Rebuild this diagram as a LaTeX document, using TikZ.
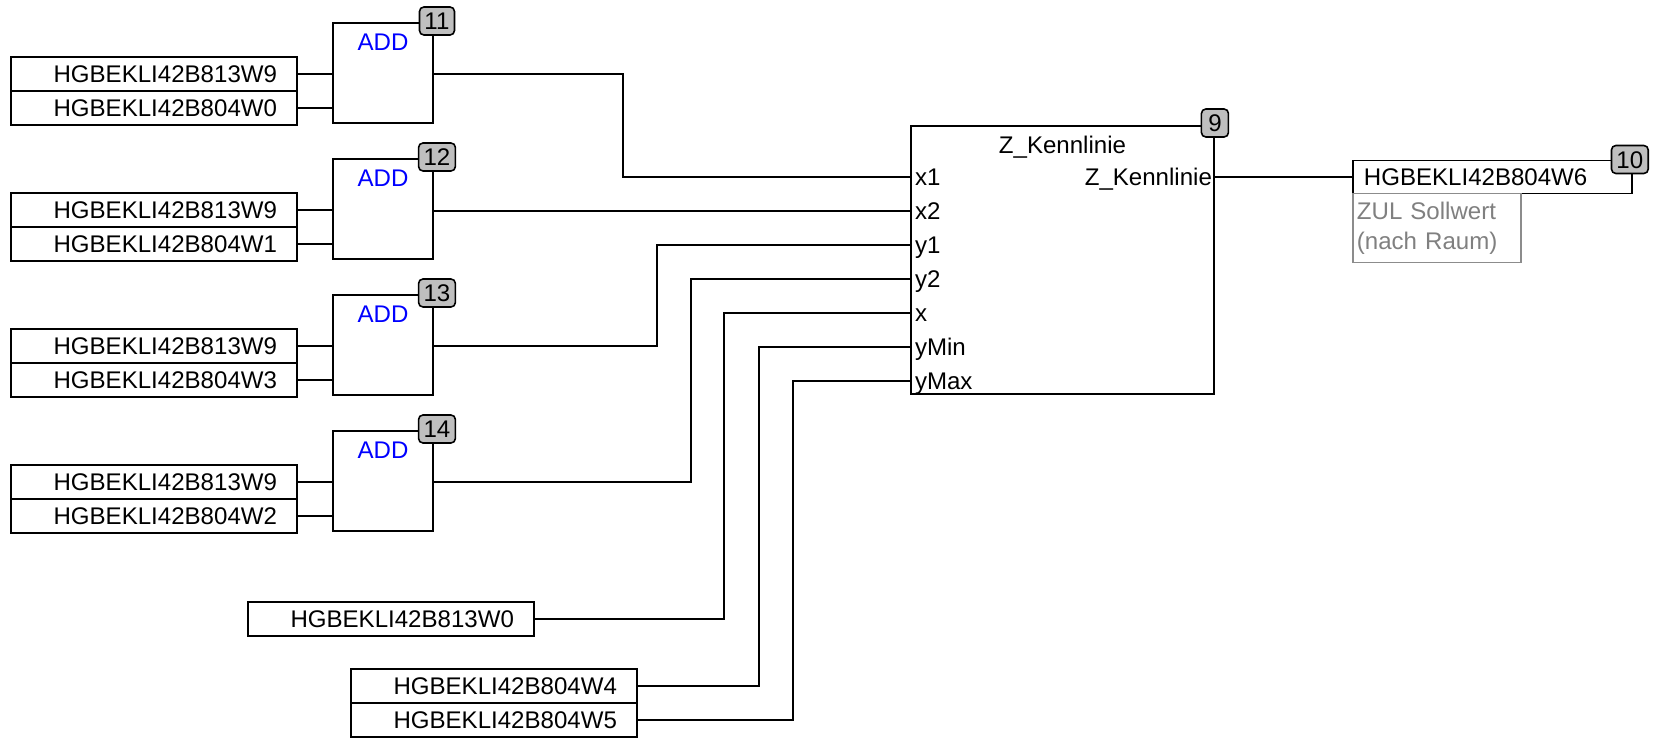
\documentclass[tikz,border=0pt]{standalone}
\usepackage{fontspec}
\setmainfont{Liberation Sans}
\usetikzlibrary{positioning, calc}

\begin{document}
\begin{tikzpicture}[
    x=0.02cm, y=-0.02cm,
    line width=0.9pt,
    font=\fontsize{13.7}{17}\selectfont,
    var/.style={rectangle, draw, text width=4.92cm, inner xsep=0.4cm, inner ysep=0pt, outer sep=0pt,
                minimum height=0.68cm, align=right, text height=9.8pt, text depth=0pt},
    outvar/.style={rectangle, draw, text width=5.14cm, inner xsep=0.22cm, inner ysep=0pt, outer sep=0pt,
                   minimum height=0.66cm, align=left, text height=9.8pt, text depth=0pt},
    block/.style={rectangle, draw, minimum width=2cm, minimum height=2cm, anchor=north west, outer sep=0pt},
    opname/.style={text=blue, inner sep=0pt},
    badge/.style={rectangle, rounded corners=2.5pt, draw, fill=black!25, inner xsep=0.1cm,
                  inner ysep=0pt, minimum width=0.54cm, minimum height=0.56cm,
                  text height=9.8pt, text depth=0pt},
    port/.style={inner xsep=0.08cm, inner ysep=0pt, outer sep=0pt, anchor=west,
                 text height=9.8pt, text depth=0pt},
    cmtbox/.style={rectangle, draw=black!45, text=black!50, text width=3.2cm, inner xsep=0.08cm,
                   outer sep=0pt, minimum height=1.38cm, align=left, line width=0.7pt},
    wire/.style={draw, line width=0.9pt},
]
\useasboundingbox (0,0) rectangle (1653,739);

% ADD blocks with their inputs
\node[block] (add11) at (333,23) {};
\node[opname, below=0.2cm of add11.north] (op11) {ADD};
\node[badge] (n11) at ($(add11.north east)+(4,-2)$) {11};
\node[var, below left=0.68cm and 0.72cm of add11.north west] (a11) {HGBEKLI42B813W9};
\node[var, below=0pt of a11] (b11) {HGBEKLI42B804W0};

\node[block] (add12) at (333,159) {};
\node[opname, below=0.2cm of add12.north] (op12) {ADD};
\node[badge] (n12) at ($(add12.north east)+(4,-2)$) {12};
\node[var, below left=0.68cm and 0.72cm of add12.north west] (a12) {HGBEKLI42B813W9};
\node[var, below=0pt of a12] (b12) {HGBEKLI42B804W1};

\node[block] (add13) at (333,295) {};
\node[opname, below=0.2cm of add13.north] (op13) {ADD};
\node[badge] (n13) at ($(add13.north east)+(4,-2)$) {13};
\node[var, below left=0.68cm and 0.72cm of add13.north west] (a13) {HGBEKLI42B813W9};
\node[var, below=0pt of a13] (b13) {HGBEKLI42B804W3};

\node[block] (add14) at (333,431) {};
\node[opname, below=0.2cm of add14.north] (op14) {ADD};
\node[badge] (n14) at ($(add14.north east)+(4,-2)$) {14};
\node[var, below left=0.68cm and 0.72cm of add14.north west] (a14) {HGBEKLI42B813W9};
\node[var, below=0pt of a14] (b14) {HGBEKLI42B804W2};

% Kennlinie block
\node[block, minimum width=6.06cm, minimum height=5.36cm] (kl) at (911,126) {};
\node[inner sep=0pt, below=0.18cm of kl.north] (kltitle) {Z\_Kennlinie};
\node[badge] (n9) at ($(kl.north east)+(1,-3)$) {9};
\node[port] (px1) at ($(kl.north west)+(0,51)$) {x1};
\node[port] (px2) at ($(kl.north west)+(0,85)$) {x2};
\node[port] (py1) at ($(kl.north west)+(0,119)$) {y1};
\node[port] (py2) at ($(kl.north west)+(0,153)$) {y2};
\node[port] (px) at ($(kl.north west)+(0,187)$) {x};
\node[port] (pymin) at ($(kl.north west)+(0,221)$) {yMin};
\node[port] (pymax) at ($(kl.north west)+(0,255)$) {yMax};
\node[port, anchor=east, inner xsep=0.04cm] (pout) at ($(kl.north east)+(0,51)$) {Z\_Kennlinie};

% output
\node[outvar, right=2.78cm of pout] (res) {HGBEKLI42B804W6};
\node[badge] (n10) at ($(res.north east)+(-2,-1)$) {10};
\node[cmtbox, below=0pt of res.south west, anchor=north west] (cmt) {ZUL Sollwert\\(nach Raum)};

% lower inputs
\node[var, anchor=north west] (bx) at (248,602) {HGBEKLI42B813W0};
\node[var, anchor=north west] (bmin) at (351,669) {HGBEKLI42B804W4};
\node[var, below=0pt of bmin] (bmax) {HGBEKLI42B804W5};

% wires
\draw[wire] (a11.east) -- (a11.east -| add11.west);
\draw[wire] (b11.east) -- (b11.east -| add11.west);
\draw[wire] (a12.east) -- (a12.east -| add12.west);
\draw[wire] (b12.east) -- (b12.east -| add12.west);
\draw[wire] (a13.east) -- (a13.east -| add13.west);
\draw[wire] (b13.east) -- (b13.east -| add13.west);
\draw[wire] (a14.east) -- (a14.east -| add14.west);
\draw[wire] (b14.east) -- (b14.east -| add14.west);

\draw[wire] (a11.east -| add11.east) -- ++(190,0) |- (px1.west);
\draw[wire] (px2.west -| add12.east) -- (px2.west);
\draw[wire] (a13.east -| add13.east) -- ++(224,0) |- (py1.west);
\draw[wire] (a14.east -| add14.east) -- ++(258,0) |- (py2.west);
\draw[wire] (bx.east) -- ++(190,0) |- (px.west);
\draw[wire] (bmin.east) -- ++(122,0) |- (pymin.west);
\draw[wire] (bmax.east) -- ++(156,0) |- (pymax.west);
\draw[wire] (pout.east) -- (res.west);

\end{tikzpicture}
\end{document}
